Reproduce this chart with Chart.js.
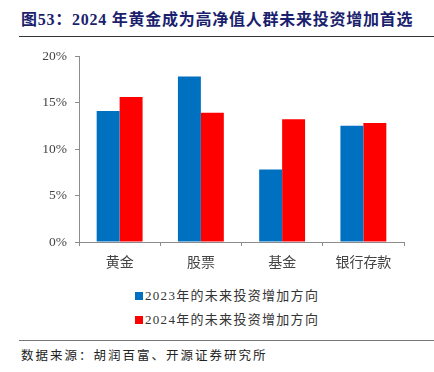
<!DOCTYPE html>
<html><head><meta charset="utf-8">
<script src="https://cdn.jsdelivr.net/npm/chart.js@4"></script>
<style>
html,body{margin:0;padding:0;background:#fff;width:434px;height:372px;overflow:hidden;position:relative;}
#title{position:absolute;left:21px;top:6px;font:bold 16px "Liberation Serif","Noto Sans CJK SC",serif;color:#1b1f6e;white-space:nowrap;letter-spacing:0.75px;}
#tline{position:absolute;left:19px;top:36px;width:415px;height:0;border-top:1.5px solid #333;}
#wrap{position:absolute;left:0;top:40px;width:434px;height:240px;}
.leg{position:absolute;left:135px;font:13px "Liberation Serif","Noto Sans CJK SC",serif;color:#333;white-space:nowrap;letter-spacing:1.3px;}
.leg span{display:inline-block;width:8px;height:8px;margin-right:2px;vertical-align:0px;}
#sline{position:absolute;left:19px;top:340px;width:415px;border-top:1px solid #777;}
#src{position:absolute;left:21px;top:345px;font:12.5px "Noto Sans CJK SC",serif;color:#222;white-space:nowrap;letter-spacing:2px;}
</style></head>
<body>
<div id="title">图53：2024 年黄金成为高净值人群未来投资增加首选</div>
<div id="tline"></div>
<div id="wrap"><canvas id="c" width="434" height="240"></canvas></div>
<div class="leg" id="l1" style="top:285px"></div>
<div class="leg" id="l2" style="top:309px"></div>
<div id="sline"></div>
<div id="src">数据来源：胡润百富、开源证券研究所</div>
<script>
const categories = ["黄金", "股票", "基金", "银行存款"];
const seriesNames = ["2023年的未来投资增加方向", "2024年的未来投资增加方向"];
const values2023 = [14.1, 17.8, 7.8, 12.5];
const values2024 = [15.6, 13.9, 13.2, 12.8];
const colors = ["#0070C0", "#FF0000"];
const yTicks = [0, 5, 10, 15, 20];

document.getElementById('l1').innerHTML = '<span style="background:'+colors[0]+'"></span>'+seriesNames[0];
document.getElementById('l2').innerHTML = '<span style="background:'+colors[1]+'"></span>'+seriesNames[1];

new Chart(document.getElementById('c'), {
  type: 'bar',
  data: {
    labels: categories,
    datasets: [
      {label: seriesNames[0], data: values2023, backgroundColor: colors[0], categoryPercentage: 0.565, barPercentage: 1.0},
      {label: seriesNames[1], data: values2024, backgroundColor: colors[1], categoryPercentage: 0.565, barPercentage: 1.0}
    ]
  },
  options: {
    responsive: false,
    animation: false,
    devicePixelRatio: 1,
    layout: {padding: {top: 16, right: 30, left: 0, bottom: 0}},
    plugins: {legend: {display: false}, tooltip: {enabled: false}},
    scales: {
      x: {
        grid: {display: true, drawOnChartArea: false, offset: true, tickLength: 4, color: '#8c8c8c'},
        border: {color: '#8c8c8c', width: 1},
        ticks: {color: '#444', font: {family: '"Noto Sans CJK SC", serif', size: 14}, padding: 7, maxRotation: 0},
        afterFit: s => { s.height = 38; }
      },
      y: {
        min: 0, max: 20,
        afterBuildTicks: s => { s.ticks = yTicks.map(v => ({value: v})); },
        grid: {display: true, drawOnChartArea: false, tickLength: 4, color: '#8c8c8c'},
        border: {color: '#8c8c8c', width: 1},
        ticks: {color: '#444', font: {family: '"Liberation Serif", serif', size: 13.5}, padding: 8, callback: v => v + '%'},
        afterFit: s => { s.width = 79; }
      }
    }
  }
});
</script>
</body></html>
